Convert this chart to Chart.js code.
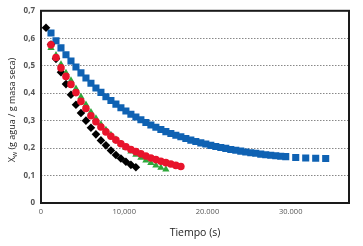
<!DOCTYPE html>
<html>
<head>
<meta charset="utf-8">
<script src="https://cdn.jsdelivr.net/npm/chart.js@4"></script>
<style>
  html, body { margin: 0; padding: 0; background: #fff; }
  #wrap { width: 363px; height: 246px; }
</style>
</head>
<body>
<div id="wrap"><canvas id="secadoChart" width="363" height="246"></canvas></div>
<script>
const xTicks = [0, 10000, 20000, 30000];
const xTickLabels = ["0", "10,000", "20.000", "30.000"];
const yTickLabels = ["0", "0,1", "0,2", "0,3", "0,4", "0,5", "0,6", "0,7"];

const blueTime = [1200, 1800, 2400, 3000, 3600, 4200, 4800, 5400, 6000, 6600,
    7200, 7800, 8400, 9000, 9600, 10200, 10800, 11400, 12000, 12600,
    13200, 13800, 14400, 15000, 15600, 16200, 16800, 17400, 18000, 18600,
    19200, 19800, 20400, 21000, 21600, 22200, 22800, 23400, 24000, 24600,
    25200, 25800, 26400, 27000, 27600, 28200, 28800, 29400, 30600, 31800,
    33000, 34200];
const blueXw = [0.619, 0.591, 0.565, 0.540, 0.517, 0.495, 0.474, 0.455, 0.436, 0.419,
    0.403, 0.387, 0.373, 0.360, 0.347, 0.335, 0.323, 0.313, 0.303, 0.293,
    0.284, 0.276, 0.268, 0.260, 0.253, 0.247, 0.241, 0.235, 0.229, 0.224,
    0.219, 0.215, 0.210, 0.206, 0.202, 0.199, 0.195, 0.192, 0.189, 0.186,
    0.183, 0.181, 0.178, 0.176, 0.174, 0.172, 0.170, 0.169, 0.166, 0.164,
    0.163, 0.162];

const blackTime = [600, 1200, 1800, 2400, 3000, 3600, 4200, 4800, 5400, 6000,
    6600, 7200, 7800, 8400, 9000, 9600, 10200, 10800, 11400];
const blackXw = [0.638, 0.577, 0.525, 0.476, 0.433, 0.394, 0.358, 0.328, 0.300, 0.274,
    0.250, 0.228, 0.210, 0.191, 0.175, 0.162, 0.150, 0.139, 0.130];

const redTime = [1200, 1800, 2400, 3000, 3600, 4200, 4800, 5400, 6000, 6600,
    7200, 7800, 8400, 9000, 9600, 10200, 10800, 11400, 12000, 12600,
    13200, 13800, 14400, 15000, 15600, 16200, 16800];
const redXw = [0.576, 0.530, 0.492, 0.461, 0.432, 0.402, 0.370, 0.344, 0.318, 0.296,
    0.277, 0.259, 0.243, 0.229, 0.216, 0.205, 0.195, 0.187, 0.179, 0.171,
    0.164, 0.158, 0.152, 0.147, 0.142, 0.137, 0.133];

const greenTime = [1200, 1800, 2400, 3000, 3600, 4200, 4800, 5400, 6000, 6600,
    7200, 7800, 8400, 9000, 9600, 10200, 10800, 11400, 12000, 12600,
    13200, 13800, 14400, 15000];
const greenXw = [0.565, 0.538, 0.505, 0.474, 0.446, 0.416, 0.386, 0.358, 0.331, 0.308,
    0.286, 0.266, 0.248, 0.231, 0.215, 0.201, 0.188, 0.176, 0.165, 0.155,
    0.146, 0.137, 0.129, 0.122];

function toPoints(ts, vs) {
    return ts.map((t, i) => ({ x: t, y: vs[i] }));
}

// frame + axis titles (the y title needs a subscript, so it is drawn by hand)
const framePlugin = {
    id: "frame",
    afterDraw(chart) {
        const { ctx, chartArea: a } = chart;
        ctx.save();
        ctx.strokeStyle = "#1a1a1a";
        ctx.lineWidth = 2;
        ctx.strokeRect(a.left, a.top, a.right - a.left, a.bottom - a.top);

        ctx.fillStyle = "#222";
        ctx.textBaseline = "middle";
        ctx.textAlign = "center";
        ctx.font = "10.5px 'Open Sans'";
        ctx.fillText("Tiempo (s)", (a.left + a.right) / 2, 233);

        ctx.translate(12, 110);
        ctx.rotate(-Math.PI / 2);
        const big = "9px 'Open Sans'";
        const small = "6.5px 'Open Sans'";
        const rest = " (g agua / g masa seca)";
        ctx.font = big;
        const wX = ctx.measureText("X").width;
        const wRest = ctx.measureText(rest).width;
        ctx.font = small;
        const wSub = ctx.measureText("w").width;
        let x = -(wX + wSub + wRest) / 2;
        ctx.textAlign = "left";
        ctx.font = big;
        ctx.fillText("X", x, 0);
        x += wX;
        ctx.font = small;
        ctx.fillText("w", x, 3);
        x += wSub;
        ctx.font = big;
        ctx.fillText(rest, x, 0);
        ctx.restore();
    }
};

const ctx = document.getElementById("secadoChart").getContext("2d");

new Chart(ctx, {
    type: "scatter",
    data: {
        datasets: [
            {
                label: "rojo",
                data: toPoints(redTime, redXw),
                pointStyle: "circle",
                pointRadius: 3.8,
                backgroundColor: "#e8142c",
                borderColor: "#e8142c",
                borderWidth: 0
            },
            {
                label: "verde",
                data: toPoints(greenTime, greenXw),
                pointStyle: "triangle",
                pointRadius: 4.2,
                backgroundColor: "#2ea83a",
                borderColor: "#2ea83a",
                borderWidth: 0
            },
            {
                label: "negro",
                data: toPoints(blackTime, blackXw),
                pointStyle: "rectRot",
                pointRadius: 4.3,
                backgroundColor: "#000000",
                borderColor: "#000000",
                borderWidth: 0
            },
            {
                label: "azul",
                data: toPoints(blueTime, blueXw),
                pointStyle: "rect",
                pointRadius: 5,
                backgroundColor: "#0f62b3",
                borderColor: "#0f62b3",
                borderWidth: 0
            }
        ]
    },
    options: {
        responsive: false,
        animation: false,
        devicePixelRatio: 1,
        layout: {
            padding: { left: 0, right: 14, top: 8, bottom: 0 }
        },
        plugins: {
            legend: { display: false },
            tooltip: { enabled: false }
        },
        scales: {
            x: {
                type: "linear",
                min: 0,
                max: 37000,
                afterFit: (scale) => { scale.height = 43; },
                afterBuildTicks: (scale) => {
                    scale.ticks = xTicks.map(v => ({ value: v }));
                },
                ticks: {
                    color: "#555",
                    font: { family: "'Open Sans'", size: 7.5 },
                    padding: 4,
                    maxRotation: 0,
                    autoSkip: false,
                    callback: (v) => xTickLabels[xTicks.indexOf(v)]
                },
                grid: { display: false, drawTicks: false },
                border: { display: false }
            },
            y: {
                min: 0,
                max: 0.7,
                afterFit: (scale) => { scale.width = 41; },
                ticks: {
                    stepSize: 0.1,
                    color: "#555",
                    font: { family: "'Open Sans'", size: 8, weight: "bold" },
                    padding: 6,
                    callback: (v) => yTickLabels[Math.round(v * 10)]
                },
                grid: {
                    drawTicks: false,
                    color: (c) => (c.tick && (c.tick.value < 0.05 || c.tick.value > 0.65)) ? "rgba(0,0,0,0)" : "#888",
                    lineWidth: 1
                },
                border: { display: false, dash: [1.5, 1.5] }
            }
        }
    },
    plugins: [framePlugin]
});
</script>
</body>
</html>
